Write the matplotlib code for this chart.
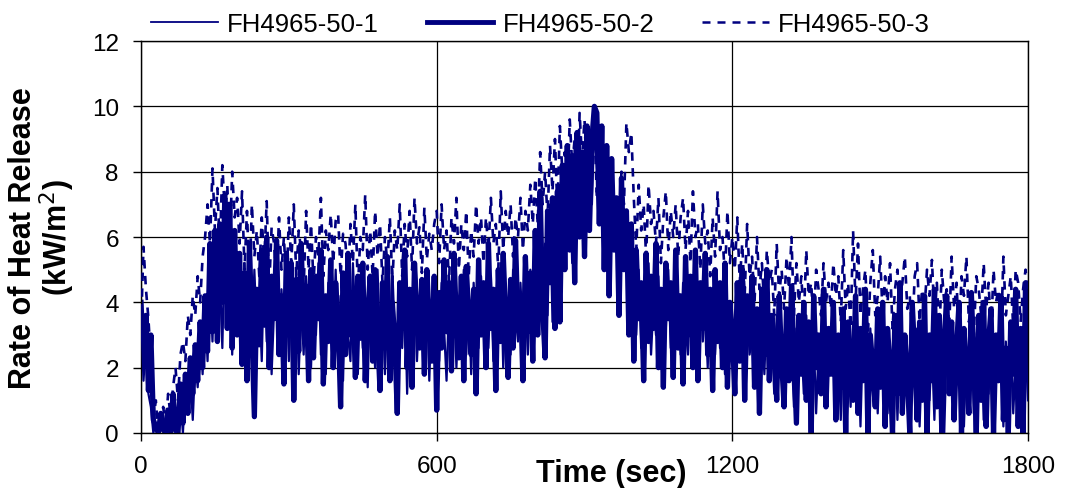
import matplotlib
matplotlib.use("Agg")
import matplotlib.pyplot as plt
from matplotlib.lines import Line2D

plt.rcParams['font.family'] = ['Liberation Sans', 'DejaVu Sans']

series_names = ["FH4965-50-1", "FH4965-50-2", "FH4965-50-3"]
x_ticks = [0, 600, 1200, 1800]
y_ticks = [0, 2, 4, 6, 8, 10, 12]

# time in seconds, one reading every 5 s
time_s = list(range(0, 1805, 5))

# FH4965-50-1 (thin solid), rows of 100 s
rhr_1 = [
    3.8,1.6,2.8,1.2,0.8,0.0,0.3,0.0,0.1,0.6,0.0,0.0,0.9,0.2,0.0,0.4,1.1,0.0,1.4,0.8,
    1.8,0.4,2.2,1.4,3.0,1.8,3.8,2.2,4.6,2.8,5.6,3.4,4.8,2.6,6.0,3.6,5.0,2.4,4.6,3.2,
    4.4,2.6,5.2,1.8,4.0,2.6,5.0,3.0,4.2,2.2,5.4,2.8,4.6,1.8,3.8,5.0,2.6,4.4,3.2,4.8,
    2.2,4.6,3.0,5.0,1.8,4.0,2.4,4.8,3.6,2.0,4.4,3.0,5.2,2.4,4.0,1.8,4.6,3.4,2.6,5.0,
    2.4,4.2,1.6,4.8,3.0,2.2,5.2,3.4,1.8,4.4,2.6,4.0,1.4,4.6,3.2,2.0,5.0,2.8,4.2,1.8,
    3.8,2.4,5.0,3.0,1.8,4.2,2.6,4.6,1.2,3.8,3.0,4.8,2.2,4.0,3.4,2.6,4.4,1.6,4.0,3.0,
    3.6,2.2,4.6,3.2,1.6,4.0,2.8,4.4,2.0,3.8,3.2,5.0,2.4,4.2,1.8,4.6,3.0,2.6,4.8,3.4,
    4.0,2.6,4.8,2.2,4.4,3.0,5.2,2.0,4.0,3.4,2.4,5.0,3.6,2.8,4.6,3.0,4.2,2.4,5.0,3.4,
    5.0,3.8,6.6,4.2,5.8,3.6,7.0,3.4,6.4,4.4,7.6,5.4,8.2,6.2,7.6,5.2,8.8,6.8,9.0,7.4,
    8.4,6.2,8.8,7.0,9.4,8.2,7.0,8.6,6.0,7.8,4.8,7.2,5.6,6.8,4.0,6.6,5.4,6.2,3.8,5.6,
    4.6,3.0,5.0,2.6,4.4,3.4,5.2,2.4,4.0,3.0,4.8,2.2,4.2,3.2,5.0,2.6,4.4,3.0,4.0,2.4,
    4.6,3.2,2.4,4.8,3.0,4.2,2.2,4.6,2.8,3.8,2.0,4.4,3.0,2.4,4.2,2.6,3.6,1.8,4.0,2.8,
    3.4,2.0,4.0,2.6,3.2,1.6,3.8,2.4,3.0,1.4,3.6,2.2,3.2,1.8,4.0,2.4,3.0,1.2,3.6,2.2,
    3.0,1.4,3.4,2.0,2.6,0.8,3.2,1.8,2.8,1.2,3.6,2.2,1.6,3.0,0.6,2.6,1.8,3.4,1.0,2.8,
    2.2,3.2,1.2,2.6,0.4,3.0,1.8,2.4,0.8,3.4,1.4,2.8,0.2,3.0,2.0,1.0,3.2,1.6,2.4,0.6,
    2.8,1.4,3.0,0.6,2.4,1.8,3.2,0.4,2.6,1.2,3.0,2.0,0.8,2.8,1.6,3.2,0.2,2.4,1.4,3.0,
    1.0,2.6,0.4,3.0,1.8,2.4,0.0,2.8,1.4,3.2,0.8,2.2,1.6,3.0,0.2,2.6,1.2,3.4,0.6,2.4,
    1.8,3.0,0.4,2.6,1.2,3.2,0.8,2.4,1.6,3.0,0.2,2.8,1.4,3.4,0.6,2.2,1.8,3.0,0.4,2.6,
    1.0,
]

# FH4965-50-2 (thick solid)
rhr_2 = [
    4.0,2.2,3.6,1.3,3.0,0.4,0.2,0.0,0.6,0.1,0.0,0.7,0.0,1.2,0.1,0.0,1.5,0.3,1.8,0.6,
    2.3,1.2,2.7,1.6,3.4,2.0,4.2,2.5,5.8,3.1,6.2,2.8,6.4,4.0,7.2,3.2,7.0,2.6,6.2,3.0,
    5.5,2.1,4.9,1.6,5.8,3.1,0.5,4.4,2.7,5.6,3.3,6.0,2.0,4.8,3.5,5.9,2.4,4.2,1.5,5.5,
    3.0,5.2,1.0,4.7,2.5,5.8,3.2,4.5,1.6,5.0,2.3,4.8,3.5,5.6,1.5,4.2,2.8,5.3,2.0,4.6,
    3.4,0.8,4.9,2.4,5.5,3.0,4.3,1.7,4.8,2.9,5.2,1.6,3.6,4.8,2.2,5.0,3.0,1.3,4.6,2.6,
    5.4,1.6,4.0,2.8,0.6,4.6,3.2,5.6,2.0,4.4,1.4,5.2,3.6,2.6,4.7,1.8,5.0,3.4,2.2,4.8,
    0.7,4.3,2.6,5.3,3.1,4.6,1.9,5.5,3.4,2.3,4.8,1.6,5.1,3.6,2.4,4.4,1.2,5.3,3.0,4.6,
    2.0,5.8,3.2,4.4,1.3,5.0,2.8,5.5,3.5,1.7,4.7,2.6,5.9,3.3,4.2,1.6,5.4,3.1,4.9,2.2,
    6.2,3.0,7.4,3.8,2.3,6.8,4.6,7.2,3.2,7.4,3.4,8.2,5.0,8.8,5.6,8.5,4.6,9.2,6.0,8.6,
    5.4,9.4,6.2,9.0,10.0,9.8,6.4,9.4,5.0,8.8,4.2,8.4,5.6,7.2,3.6,7.8,5.0,6.8,3.0,6.4,
    2.2,5.6,3.5,4.6,1.6,5.5,2.8,4.8,3.2,5.8,2.0,4.4,1.4,5.2,3.5,4.6,1.7,5.6,2.6,4.2,
    1.5,5.4,3.0,4.8,2.0,5.6,1.6,4.6,3.2,5.5,2.4,4.4,1.3,5.0,2.8,4.6,2.0,5.2,1.4,4.0,
    3.0,1.2,4.6,2.2,5.0,1.0,4.2,2.8,4.8,1.4,3.8,0.6,4.4,2.4,5.0,1.6,3.6,2.8,1.0,4.2,
    2.2,0.8,3.8,1.6,4.5,2.4,0.3,3.6,1.8,4.0,1.0,3.4,0.0,4.2,2.0,3.0,1.2,4.4,0.8,3.2,
    1.8,4.0,0.4,3.0,1.4,3.8,0.0,3.4,2.2,1.0,4.2,0.6,3.2,1.6,4.4,0.0,3.0,2.0,0.8,3.8,
    1.4,4.0,0.2,3.2,2.0,0.0,3.6,1.2,4.6,0.6,3.0,1.8,0.0,4.0,2.4,0.4,3.4,1.0,4.2,0.0,
    3.0,1.6,4.4,0.8,3.6,0.0,2.8,4.2,1.2,3.4,0.4,2.6,4.0,0.0,3.2,1.8,0.6,4.3,2.2,0.0,
    3.6,1.0,4.0,0.2,2.8,3.8,0.0,3.0,1.6,4.2,0.4,2.6,0.0,3.4,1.8,4.4,0.2,3.2,0.0,4.6,
    1.8,
]

# FH4965-50-3 (dashed)
rhr_3 = [
    3.2,5.7,4.4,3.5,2.2,0.4,1.0,0.0,0.4,0.8,0.2,1.2,0.5,1.4,2.0,1.0,2.4,2.8,2.2,3.6,
    3.0,4.2,3.6,4.8,4.0,5.4,6.0,7.0,5.8,8.1,6.2,7.5,5.6,8.2,6.8,7.6,5.8,8.0,6.6,7.2,
    5.8,7.4,5.0,6.8,4.6,7.0,5.4,6.2,4.8,6.6,5.2,7.1,4.4,6.3,5.8,4.6,6.6,5.0,6.0,4.4,
    6.6,5.2,7.0,4.8,6.2,5.6,4.4,6.8,5.0,6.4,4.6,6.0,5.4,7.2,4.8,6.2,5.6,6.7,5.2,6.5,
    6.7,4.8,6.1,5.8,4.6,6.4,5.2,7.0,4.4,6.0,5.6,7.3,5.0,6.2,4.8,6.8,5.4,6.4,4.6,6.0,
    5.2,6.6,4.6,6.2,5.6,7.0,4.8,6.4,5.4,6.8,5.0,7.2,5.8,6.3,4.9,6.9,5.3,6.1,5.6,6.4,
    6.8,5.2,7.0,5.6,6.2,4.6,6.6,5.8,7.2,5.0,6.4,5.6,6.8,4.8,6.2,5.4,7.0,5.8,6.6,5.2,
    6.6,5.6,7.2,5.8,6.4,5.0,7.4,5.6,6.8,6.0,7.0,5.4,6.6,6.0,7.2,5.6,6.8,6.2,7.6,6.4,
    7.8,6.4,8.6,7.0,8.0,6.6,8.8,7.4,9.0,6.8,9.4,8.0,8.6,7.2,9.6,8.2,9.0,7.0,9.8,8.4,
    9.6,7.6,9.2,8.0,9.5,7.2,9.0,6.6,8.4,7.4,6.4,7.6,5.8,7.2,6.6,8.0,7.0,9.5,8.6,9.2,
    7.2,5.6,7.6,6.2,7.0,5.4,7.6,6.4,6.8,5.8,7.2,5.2,6.6,7.4,5.6,6.8,6.0,7.0,5.4,6.6,
    7.2,5.6,6.8,5.2,7.4,6.0,6.4,5.0,7.0,5.8,6.2,4.8,6.6,5.4,7.4,5.6,6.0,4.8,6.8,5.2,
    6.0,5.0,6.6,4.6,5.8,4.2,6.4,4.8,5.4,4.0,6.0,4.4,5.2,3.8,5.6,4.6,5.0,3.6,5.8,4.2,
    5.0,3.8,5.4,4.4,6.0,3.6,5.2,4.0,4.8,3.4,5.6,4.2,4.6,3.2,5.0,4.4,3.6,5.2,4.0,4.6,
    3.8,5.2,4.2,4.8,3.4,5.6,3.8,4.6,3.2,6.2,4.0,5.8,3.6,4.4,5.0,3.0,4.6,5.6,3.6,4.2,
    5.4,3.6,4.8,4.0,5.2,3.2,4.4,5.0,3.6,4.6,5.4,3.8,4.2,3.0,4.8,5.2,3.4,4.4,3.8,5.0,
    4.2,5.3,3.6,4.6,3.0,5.0,4.0,4.4,3.2,5.4,3.8,4.6,2.8,4.8,4.2,5.4,3.4,4.0,3.0,4.8,
    4.4,3.6,5.2,3.8,4.6,3.0,5.0,4.0,4.4,2.8,5.4,3.6,4.2,4.8,3.2,5.0,4.6,3.4,4.4,5.0,
    4.2,
]

navy = "#000080"

fig = plt.figure(figsize=(10.89, 4.89), dpi=100)
ax = fig.add_axes([0.1295, 0.1125, 0.8145, 0.8015])

ax.plot(time_s, rhr_1, color=navy, lw=1.6, zorder=3)
ax.plot(time_s, rhr_2, color=navy, lw=3.8, zorder=2)
ax.plot(time_s, rhr_3, color=navy, lw=1.9, ls=(0, (3.2, 2.8)), zorder=4)

ax.set_xlim(0, 1800)
ax.set_ylim(0, 12)
ax.set_xticks(x_ticks)
ax.set_yticks(y_ticks)
ax.grid(True, color="black", lw=0.9)
ax.set_axisbelow(True)
for s in ax.spines.values():
    s.set_color("black")
    s.set_linewidth(1.0)
ax.tick_params(axis="both", direction="out", length=6, width=1.0,
               labelsize=17.5, pad=10)

ax.set_xlabel("Time (sec)", fontsize=22, fontweight="bold")
ax.xaxis.set_label_coords(0.53, -0.064)
ax.set_ylabel("Rate of Heat Release\n(kW/m$^2$)", fontsize=22,
              fontweight="bold", linespacing=1.0)
ax.yaxis.set_label_coords(-0.072, 0.5)

handles = [
    Line2D([], [], color=navy, lw=1.3),
    Line2D([], [], color=navy, lw=3.5),
    Line2D([], [], color=navy, lw=1.8, ls=(0, (3.2, 2.8))),
]
fig.legend(handles, series_names, loc="center", bbox_to_anchor=(0.4963, 0.949),
           ncol=3, frameon=False, fontsize=18.5, handlelength=2.6,
           handletextpad=0.36, columnspacing=1.85)

fig.savefig("out.png", dpi=100)
